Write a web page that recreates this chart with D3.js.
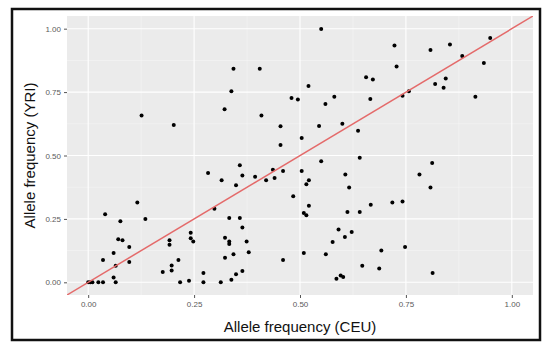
<!DOCTYPE html>
<html>
<head>
<meta charset="utf-8">
<script src="https://cdn.jsdelivr.net/npm/d3@7"></script>
<style>
  body { margin: 0; background: #fff; }
  svg { display: block; }
</style>
</head>
<body>
<svg id="chart" width="550" height="352"></svg>
<script>
// allele frequency per SNP
const ceu = [
  0.343, 0.405, 0.338, 0.480, 0.495, 0.126, 0.322, 0.409, 0.202, 0.454, 0.454, 0.504,
  0.550, 0.520, 0.560, 0.581, 0.545, 0.600, 0.637, 0.723, 0.728, 0.656, 0.672, 0.666,
  0.742, 0.757, 0.808, 0.854, 0.883, 0.949, 0.934, 0.819, 0.844, 0.839, 0.914,
  0.000, 0.005, 0.010, 0.024, 0.035, 0.065, 0.060, 0.065, 0.035, 0.060, 0.071, 0.081,
  0.097, 0.097, 0.076, 0.040, 0.116, 0.135, 0.176, 0.197, 0.197, 0.213, 0.217, 0.238,
  0.192, 0.192, 0.242, 0.242, 0.248, 0.272, 0.272, 0.283, 0.298, 0.315, 0.313, 0.338,
  0.349, 0.364, 0.323, 0.343, 0.323, 0.333, 0.333, 0.374, 0.379, 0.333, 0.358, 0.364,
  0.349, 0.364, 0.358, 0.394, 0.420, 0.436, 0.440, 0.460, 0.460, 0.484, 0.504,
  0.550, 0.641, 0.812, 0.607, 0.782, 0.515, 0.521, 0.616, 0.808, 0.521, 0.509, 0.515,
  0.612, 0.641, 0.667, 0.718, 0.742, 0.591, 0.622, 0.606, 0.577, 0.509, 0.561, 0.692,
  0.748, 0.647, 0.687, 0.813, 0.586, 0.596, 0.602
];
const yri = [
  0.842, 0.842, 0.753, 0.727, 0.721, 0.658, 0.682, 0.658, 0.620, 0.615, 0.541, 0.569,
  0.999, 0.774, 0.703, 0.732, 0.616, 0.625, 0.598, 0.934, 0.851, 0.809, 0.800, 0.723,
  0.736, 0.753, 0.916, 0.938, 0.892, 0.963, 0.865, 0.782, 0.804, 0.767, 0.732,
  0.000, 0.000, 0.000, 0.000, 0.000, 0.000, 0.019, 0.065, 0.088, 0.116, 0.170, 0.166,
  0.139, 0.080, 0.241, 0.268, 0.315, 0.250, 0.041, 0.047, 0.066, 0.088, 0.000, 0.006,
  0.166, 0.148, 0.195, 0.174, 0.161, 0.037, 0.000, 0.431, 0.290, 0.402, 0.000, 0.010,
  0.032, 0.045, 0.097, 0.111, 0.176, 0.161, 0.151, 0.161, 0.119, 0.254, 0.254, 0.216,
  0.383, 0.421, 0.462, 0.416, 0.402, 0.444, 0.411, 0.439, 0.088, 0.339, 0.439,
  0.477, 0.491, 0.470, 0.425, 0.425, 0.387, 0.402, 0.374, 0.374, 0.302, 0.273, 0.264,
  0.277, 0.277, 0.306, 0.315, 0.319, 0.208, 0.198, 0.179, 0.159, 0.116, 0.111, 0.125,
  0.139, 0.065, 0.054, 0.037, 0.014, 0.027, 0.021
];
const tickValues = [0, 0.25, 0.5, 0.75, 1];
const minorValues = [0.125, 0.375, 0.625, 0.875];
const xTitle = "Allele frequency (CEU)";
const yTitle = "Allele frequency (YRI)";

const svg = d3.select("#chart");

// panel box
const panel = {left: 67, right: 533, top: 16, bottom: 295};

// outer frame round the figure
svg.append("rect")
    .attr("x", 12).attr("y", 9)
    .attr("width", 528).attr("height", 331)
    .attr("fill", "#fff")
    .attr("stroke", "#111")
    .attr("stroke-width", 2.5);

const x = d3.scaleLinear().domain([-0.05, 1.05]).range([panel.left, panel.right]);
const y = d3.scaleLinear().domain([-0.05, 1.05]).range([panel.bottom, panel.top]);

svg.append("rect")
    .attr("x", panel.left).attr("y", panel.top)
    .attr("width", panel.right - panel.left)
    .attr("height", panel.bottom - panel.top)
    .attr("fill", "#ebebeb");

// grid lines, minor then major
const grid = svg.append("g");
grid.selectAll(".vminor").data(minorValues).join("line")
    .attr("x1", d => x(d)).attr("x2", d => x(d))
    .attr("y1", panel.top).attr("y2", panel.bottom)
    .attr("stroke", "#f7f7f7").attr("stroke-width", 0.6);
grid.selectAll(".hminor").data(minorValues).join("line")
    .attr("y1", d => y(d)).attr("y2", d => y(d))
    .attr("x1", panel.left).attr("x2", panel.right)
    .attr("stroke", "#f7f7f7").attr("stroke-width", 0.6);
grid.selectAll(".vmajor").data(tickValues).join("line")
    .attr("x1", d => x(d)).attr("x2", d => x(d))
    .attr("y1", panel.top).attr("y2", panel.bottom)
    .attr("stroke", "#fff").attr("stroke-width", 1.1);
grid.selectAll(".hmajor").data(tickValues).join("line")
    .attr("y1", d => y(d)).attr("y2", d => y(d))
    .attr("x1", panel.left).attr("x2", panel.right)
    .attr("stroke", "#fff").attr("stroke-width", 1.1);

// points
const pts = ceu.map((d, i) => ({ceu: d, yri: yri[i]}));
svg.append("g").selectAll("circle").data(pts).join("circle")
    .attr("cx", d => x(d.ceu))
    .attr("cy", d => y(d.yri))
    .attr("r", 2)
    .attr("fill", "#000");

// y = x line, clipped to the panel
svg.append("clipPath").attr("id", "clip")
  .append("rect")
    .attr("x", panel.left).attr("y", panel.top)
    .attr("width", panel.right - panel.left)
    .attr("height", panel.bottom - panel.top);
svg.append("line")
    .attr("clip-path", "url(#clip)")
    .attr("x1", x(-0.05)).attr("y1", y(-0.05))
    .attr("x2", x(1.05)).attr("y2", y(1.05))
    .attr("stroke", "#e46a6a")
    .attr("stroke-width", 1.5);

// axes
const fmt = d3.format(".2f");
const xAxis = svg.append("g")
    .attr("transform", `translate(0,${panel.bottom})`)
    .call(d3.axisBottom(x).tickValues(tickValues).tickFormat(fmt).tickSize(3).tickPadding(3));
const yAxis = svg.append("g")
    .attr("transform", `translate(${panel.left},0)`)
    .call(d3.axisLeft(y).tickValues(tickValues).tickFormat(fmt).tickSize(3).tickPadding(3));
[xAxis, yAxis].forEach(a => {
    a.select(".domain").remove();
    a.selectAll(".tick line").attr("stroke", "#555");
    a.selectAll(".tick text")
        .attr("fill", "#5a5a5a")
        .style("font-family", "Liberation Sans, Arial, sans-serif")
        .style("font-size", "8px");
});

svg.append("text")
    .attr("x", (panel.left + panel.right) / 2)
    .attr("y", 332)
    .attr("text-anchor", "middle")
    .style("font-family", "Liberation Sans, Arial, sans-serif")
    .style("font-size", "15px")
    .attr("fill", "#111")
    .text(xTitle);

svg.append("text")
    .attr("transform", `translate(35,${(panel.top + panel.bottom) / 2}) rotate(-90)`)
    .attr("text-anchor", "middle")
    .style("font-family", "Liberation Sans, Arial, sans-serif")
    .style("font-size", "15px")
    .attr("fill", "#111")
    .text(yTitle);
</script>
</body>
</html>
